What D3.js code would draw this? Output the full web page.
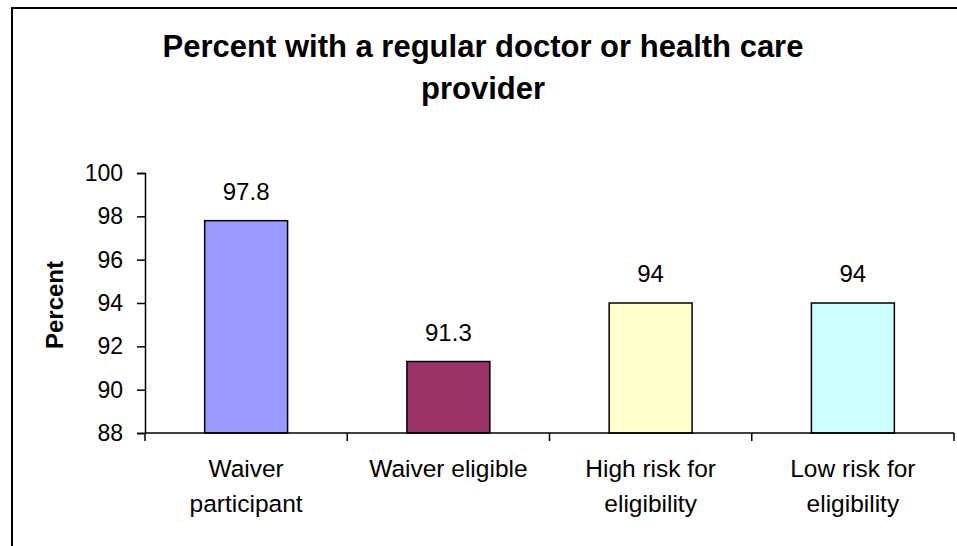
<!DOCTYPE html>
<html>
<head>
<meta charset="utf-8">
<script src="https://cdn.jsdelivr.net/npm/d3@7"></script>
<style>
  body { margin: 0; background: #fff; }
  svg text { font-family: "Liberation Sans", Arial, sans-serif; fill: #000; }
</style>
</head>
<body>
<svg id="chart" width="957" height="546"></svg>
<script>
// chart data
const categories = [["Waiver", "participant"], ["Waiver eligible"], ["High risk for", "eligibility"], ["Low risk for", "eligibility"]];
const values = [97.8, 91.3, 94, 94];
const valueLabels = ["97.8", "91.3", "94", "94"];
const barColors = ["#9999ff", "#993366", "#ffffcc", "#ccffff"];
const yTicks = [88, 90, 92, 94, 96, 98, 100];

const svg = d3.select("#chart");

// outer frame (right/bottom edges fall outside the picture)
svg.append("rect")
  .attr("x", 12).attr("y", 8)
  .attr("width", 1000).attr("height", 600)
  .attr("fill", "none").attr("stroke", "#000").attr("stroke-width", 2);

// title
svg.append("text")
  .attr("x", 483).attr("y", 57)
  .attr("text-anchor", "middle")
  .attr("font-size", 31).attr("font-weight", "bold")
  .text("Percent with a regular doctor or health care");
svg.append("text")
  .attr("x", 483).attr("y", 99)
  .attr("text-anchor", "middle")
  .attr("font-size", 31).attr("font-weight", "bold")
  .text("provider");

const plot = { left: 145, right: 954, top: 173, bottom: 433 };

const y = d3.scaleLinear().domain([88, 100]).range([plot.bottom, plot.top]);
const x = d3.scaleBand()
  .domain(d3.range(values.length))
  .range([plot.left, plot.right])
  .paddingInner(0.59).paddingOuter(0.295);

// y axis
const yAxis = svg.append("g")
  .attr("transform", `translate(${plot.left},0)`)
  .call(d3.axisLeft(y).tickValues(yTicks).tickSize(8).tickPadding(14));
yAxis.select(".domain").attr("stroke", "#000").attr("stroke-width", 1.5);
yAxis.selectAll(".tick line").attr("stroke", "#000").attr("stroke-width", 1.5);
yAxis.selectAll(".tick text").attr("font-size", 23).attr("font-family", "Liberation Sans, Arial, sans-serif").attr("fill", "#000");

// y axis title
svg.append("text")
  .attr("transform", "translate(63,305) rotate(-90)")
  .attr("text-anchor", "middle")
  .attr("font-size", 24).attr("font-weight", "bold")
  .text("Percent");

// bars
svg.selectAll("rect.bar")
  .data(values)
  .enter()
  .append("rect")
  .attr("class", "bar")
  .attr("x", (d, i) => x(i))
  .attr("y", d => y(d))
  .attr("width", x.bandwidth())
  .attr("height", d => y(88) - y(d))
  .attr("fill", (d, i) => barColors[i])
  .attr("stroke", "#000").attr("stroke-width", 1.5);

// value labels
svg.selectAll("text.val")
  .data(values)
  .enter()
  .append("text")
  .attr("class", "val")
  .attr("x", (d, i) => x(i) + x.bandwidth() / 2)
  .attr("y", d => y(d) - 21)
  .attr("text-anchor", "middle")
  .attr("font-size", 24)
  .text((d, i) => valueLabels[i]);

// x axis with ticks between categories
const gap = (x.step() - x.bandwidth()) / 2;
const bounds = d3.range(values.length).map(i => x(i) - gap).concat([plot.right]);
svg.append("line")
  .attr("x1", plot.left).attr("x2", plot.right)
  .attr("y1", plot.bottom).attr("y2", plot.bottom)
  .attr("stroke", "#000").attr("stroke-width", 1.5);
svg.selectAll("line.xtick")
  .data(bounds)
  .enter()
  .append("line")
  .attr("class", "xtick")
  .attr("x1", d => d).attr("x2", d => d)
  .attr("y1", plot.bottom).attr("y2", plot.bottom + 8)
  .attr("stroke", "#000").attr("stroke-width", 1.5);

// category labels
const cat = svg.selectAll("text.cat")
  .data(categories)
  .enter()
  .append("text")
  .attr("class", "cat")
  .attr("text-anchor", "middle")
  .attr("font-size", 24.5);
cat.selectAll("tspan")
  .data((d, i) => d.map(s => ({ s, i })))
  .enter()
  .append("tspan")
  .attr("x", d => x(d.i) + x.bandwidth() / 2)
  .attr("y", (d, j) => 477 + j * 35)
  .text(d => d.s);
</script>
</body>
</html>
